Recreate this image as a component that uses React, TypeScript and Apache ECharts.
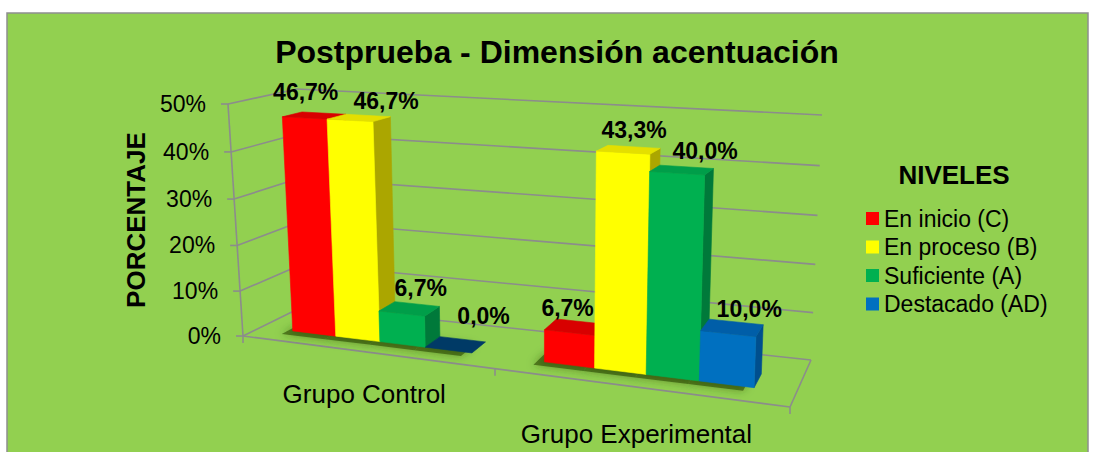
import { useEffect, useRef } from 'react';
import * as echarts from 'echarts';

// ---------- data ----------
const categories = ['Grupo Control', 'Grupo Experimental'];
const levels = ['En inicio (C)', 'En proceso (B)', 'Suficiente (A)', 'Destacado (AD)'];
const enInicio = [46.7, 6.7];
const enProceso = [46.7, 43.3];
const suficiente = [6.7, 40.0];
const destacado = [0.0, 10.0];
const yTicks = [0, 10, 20, 30, 40, 50];
const titleText = 'Postprueba - Dimensión acentuación';
const yAxisName = 'PORCENTAJE';
const legendTitle = 'NIVELES';

const seriesValues = [enInicio, enProceso, suficiente, destacado];

// ---------- styles ----------
const FONT = '"Liberation Sans", Arial, Helvetica, sans-serif';
const FRONT = ['#FF0000', '#FFFF00', '#00B050', '#0070C0'];
const SIDE = ['#B50000', '#ABA600', '#00793A', '#004F8E'];
const TOP = ['#D80000', '#E4DF00', '#009E49', '#005EA8'];
const FLAT = ['#990000', '#8C8800', '#005E2C', '#003A66'];
const GRID_COLOR = '#8C8C8C';
const PANEL = '#92D050';

// projected frame of the 3D box (walls / floor)
type P = [number, number];
const F = {
  fbl: [243, 336] as P, fbr: [790, 407] as P, bbl: [304, 306] as P, bbr: [811, 360] as P,
  ftl: [228, 104] as P, ftr: [801, 131] as P, btl: [297, 89] as P, btr: [822, 115] as P,
};
const KU = -0.1457; // perspective foreshortening along categories
const KV = -0.04;   // perspective foreshortening along values
const GAP = 0.75 / 5.5; // gap width 150 %
const BW = 1 / 5.5;
const W0 = 0.3;  // bar depth start
const W1 = 0.6;  // bar depth end

// label nudges (relative to bar front-top centre)
const LABEL_DX = [[1, -2], [36, 11], [19, 28], [35, 21]];
const LABEL_DY = [[-18, -17], [-11, -15], [-18, -14], [-26, -17]];
const CAT_LABEL_DY = [42, 47];

const lerp = (a: P, b: P, t: number): P => [a[0] + (b[0] - a[0]) * t, a[1] + (b[1] - a[1]) * t];
const warp = (t: number, k: number) => (t * (1 + k)) / (1 + k * t);
function proj(u: number, v: number, w: number): P {
  const a = warp(u, KU);
  const b = warp(v, KV);
  const f0 = lerp(lerp(F.fbl, F.fbr, a), lerp(F.bbl, F.bbr, a), w);
  const f1 = lerp(lerp(F.ftl, F.ftr, a), lerp(F.btl, F.btr, a), w);
  return lerp(f0, f1, b);
}

const fmt = (v: number) => v.toFixed(1).replace('.', ',') + '%';

function helpers(params: any) {
  const cs = params.coordSys;
  return {
    toU: (px: number) => (px - cs.x) / cs.width,
    toV: (py: number) => (cs.y + cs.height - py) / cs.height,
  };
}

function line(p: P, q: P, extra: any = {}) {
  return {
    type: 'line',
    shape: { x1: p[0], y1: p[1], x2: q[0], y2: q[1] },
    style: { stroke: GRID_COLOR, lineWidth: 1.6, ...extra },
  };
}

function barGeom(params: any, api: any, i: number, j: number, val: number) {
  const { toU, toV } = helpers(params);
  const c = api.coord([i, 0]);
  const t = api.coord([i, val]);
  const catW = api.size([1, 0])[0];
  const x0 = c[0] - catW / 2 + catW * (GAP + j * BW);
  const x1 = x0 + catW * BW;
  return { u0: toU(x0), u1: toU(x1), v: toV(t[1]) };
}

function poly(points: P[], fill: string) {
  return {
    type: 'polygon',
    shape: { points },
    style: { fill, stroke: fill, lineWidth: 0.6, lineJoin: 'round' },
  };
}

export default function App() {
  const ref = useRef<HTMLDivElement>(null);

  useEffect(() => {
    if (!ref.current) return;
    const chart = echarts.init(ref.current, null, { renderer: 'svg' });

    const shadowData: number[][] = [];
    seriesValues.forEach((arr, j) => arr.forEach((v, i) => shadowData.push([i, j, v])));

    const barSeries = seriesValues.map((arr, j) => ({
      type: 'custom',
      name: levels[j],
      coordinateSystem: 'cartesian2d',
      clip: false,
      z: 3,
      itemStyle: { color: FRONT[j] },
      encode: { x: 0, y: 1 },
      data: arr.map((v, i) => [i, v]),
      renderItem: (params: any, api: any) => {
        const i = api.value(0);
        const val = api.value(1);
        const { u0, u1, v } = barGeom(params, api, i, j, val);
        const children: any[] = [];
        const fr: P[] = [proj(u0, 0, W0), proj(u1, 0, W0), proj(u1, v, W0), proj(u0, v, W0)];
        if (val > 0) {
          const sd: P[] = [proj(u1, 0, W0), proj(u1, 0, W1), proj(u1, v, W1), proj(u1, v, W0)];
          const tp: P[] = [proj(u0, v, W0), proj(u1, v, W0), proj(u1, v, W1), proj(u0, v, W1)];
          children.push(poly(sd, SIDE[j]));
          children.push(poly(fr, FRONT[j]));
          children.push(poly(tp, TOP[j]));
        } else {
          const tp: P[] = [proj(u0, 0, W0), proj(u1, 0, W0), proj(u1, 0, W1), proj(u0, 0, W1)];
          children.push(poly(tp, FLAT[j]));
        }
        const cx = (fr[2][0] + fr[3][0]) / 2;
        const cy = (fr[2][1] + fr[3][1]) / 2;
        children.push({
          type: 'text',
          x: cx + LABEL_DX[j][i],
          y: cy + LABEL_DY[j][i] - 8,
          z2: 10,
          style: {
            text: fmt(val),
            font: `bold 23px ${FONT}`,
            fill: '#000000',
            align: 'center',
            verticalAlign: 'middle',
          },
        });
        return { type: 'group', children };
      },
    }));

    const option: any = {
      animation: false,
      backgroundColor: '#FFFFFF',
      grid: { left: 100, right: 100, top: 60, bottom: 60 },
      xAxis: { type: 'category', data: categories, show: false },
      yAxis: { type: 'value', min: 0, max: 50, interval: 10, show: false },
      legend: {
        orient: 'vertical',
        left: 861,
        top: 202,
        itemWidth: 13,
        itemHeight: 13,
        itemGap: 5.5,
        icon: 'rect',
        selectedMode: false,
        data: levels,
        textStyle: { fontSize: 23, lineHeight: 23, color: '#000000', fontFamily: FONT },
      },
      graphic: [
        {
          type: 'rect',
          z: -10,
          silent: true,
          shape: { x: 7, y: 13, width: 1081, height: 460 },
          style: { fill: PANEL, stroke: '#8E8E8E', lineWidth: 1.5 },
        },
        {
          type: 'text',
          x: 557,
          y: 52,
          style: {
            text: titleText,
            font: `bold 32px ${FONT}`,
            fill: '#000000',
            align: 'center',
            verticalAlign: 'middle',
          },
        },
        {
          type: 'text',
          x: 136,
          y: 220,
          rotation: Math.PI / 2,
          style: {
            text: yAxisName,
            font: `bold 26px ${FONT}`,
            fill: '#000000',
            align: 'center',
            verticalAlign: 'middle',
          },
        },
        {
          type: 'text',
          x: 954,
          y: 175,
          style: {
            text: legendTitle,
            font: `bold 26px ${FONT}`,
            fill: '#000000',
            align: 'center',
            verticalAlign: 'middle',
          },
        },
      ],
      series: [
        // walls, gridlines, axis
        {
          type: 'custom',
          coordinateSystem: 'cartesian2d',
          clip: false,
          z: 1,
          silent: true,
          encode: { x: 0, y: 1 },
          data: yTicks.map((t) => [0, t]),
          renderItem: (params: any, api: any) => {
            const { toU, toV } = helpers(params);
            const t = api.value(1);
            const v = toV(api.coord([0, t])[1]);
            const children: any[] = [];
            children.push(line(proj(0, v, 1), proj(1, v, 1)));
            children.push(line(proj(0, v, 0), proj(0, v, 1)));
            const a = proj(0, v, 0);
            children.push(line([a[0] - 7, a[1]], a));
            children.push({
              type: 'text',
              x: a[0] - 22,
              y: a[1],
              style: {
                text: `${t}%`,
                font: `23px ${FONT}`,
                fill: '#000000',
                align: 'right',
                verticalAlign: 'middle',
              },
            });
            if (params.dataIndex === 0) {
              children.push(line(proj(0, 0, 0), proj(0, 1, 0)));
              children.push(line(proj(0, 0, 0), proj(1, 0, 0)));
              children.push(line(proj(1, 0, 0), proj(1, 0, 1)));
              const catW = api.size([1, 0])[0];
              for (let k = 0; k <= categories.length; k++) {
                const px = k < categories.length
                  ? api.coord([k, 0])[0] - catW / 2
                  : api.coord([k - 1, 0])[0] + catW / 2;
                const p = proj(toU(px), 0, 0);
                children.push(line(p, [p[0], p[1] + 7]));
              }
            }
            return { type: 'group', children };
          },
        },
        // category labels
        {
          type: 'custom',
          coordinateSystem: 'cartesian2d',
          clip: false,
          z: 1,
          silent: true,
          encode: { x: 0, y: 1 },
          data: categories.map((_, i) => [i, 0]),
          renderItem: (params: any, api: any) => {
            const { toU } = helpers(params);
            const i = api.value(0);
            const p = proj(toU(api.coord([i, 0])[0]), 0, 0);
            return {
              type: 'text',
              x: p[0],
              y: p[1] + CAT_LABEL_DY[i],
              style: {
                text: categories[i],
                font: `26px ${FONT}`,
                fill: '#000000',
                align: 'center',
                verticalAlign: 'middle',
              },
            };
          },
        },
        // floor shadows
        {
          type: 'custom',
          coordinateSystem: 'cartesian2d',
          clip: false,
          z: 2,
          silent: true,
          encode: { x: 0, y: 2 },
          data: shadowData,
          renderItem: (params: any, api: any) => {
            const i = api.value(0);
            const j = api.value(1);
            const val = api.value(2);
            const { u0, u1 } = barGeom(params, api, i, j, val);
            const pts: P[] = [proj(u0, 0, W0), proj(u1, 0, W0), proj(u1, 0, W1), proj(u0, 0, W1)].map(
              (p) => [p[0] - 11, p[1] + 3] as P,
            );
            return {
              type: 'polygon',
              shape: { points: pts },
              style: {
                fill: 'rgba(40,70,10,0.6)',
                shadowBlur: 8,
                shadowColor: 'rgba(40,70,10,0.75)',
              },
            };
          },
        },
        ...barSeries,
      ],
    };

    chart.setOption(option);
    return () => chart.dispose();
  }, []);

  return (
    <div
      ref={ref}
      style={{ position: 'fixed', left: 0, top: 0, width: 1095, height: 452 }}
    />
  );
}
